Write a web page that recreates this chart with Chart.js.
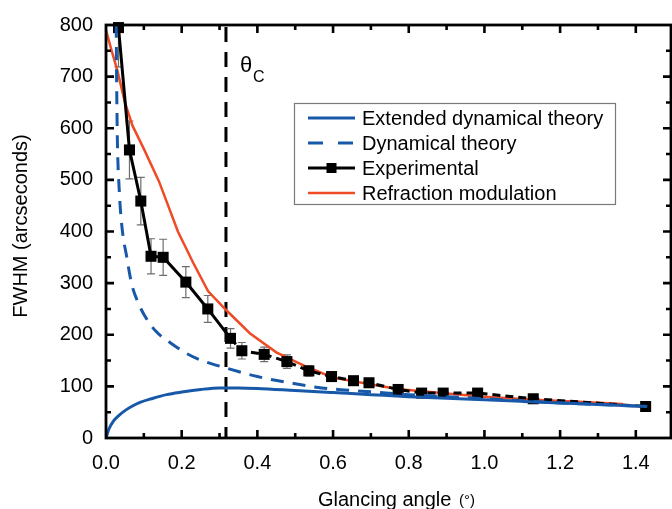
<!DOCTYPE html>
<html>
<head>
<meta charset="utf-8">
<script src="https://cdn.jsdelivr.net/npm/chart.js@4.4.0/dist/chart.umd.min.js"></script>
<style>
  html, body { margin: 0; padding: 0; background: #fff; }
  #wrap { width: 672px; height: 509px; }
</style>
</head>
<body>
<div id="wrap"><canvas id="fwhmChart" width="672" height="509"></canvas></div>
<script>
// glancing angle in degrees, FWHM in arcseconds
const extAngle = [0, 0.008, 0.02, 0.033, 0.05, 0.07, 0.09, 0.12, 0.16, 0.2, 0.25, 0.3, 0.35, 0.4, 0.5, 0.6, 0.7, 0.8, 0.9, 1.0, 1.1, 1.2, 1.3, 1.43];
const extFwhm  = [0, 18, 33, 43, 53, 62, 69, 76, 84, 89, 94, 97, 97, 96, 92, 88, 84, 80, 77, 74, 71, 68, 65, 61];

const dynAngle = [0.027, 0.028, 0.03, 0.035, 0.042, 0.055, 0.068, 0.085, 0.103, 0.13, 0.169, 0.21, 0.25, 0.32, 0.4, 0.5, 0.57, 0.63, 0.71, 0.8, 0.9, 1.0, 1.1, 1.2, 1.3, 1.43];
const dynFwhm  = [800, 700, 580, 480, 410, 350, 298, 262, 236, 208, 185, 165, 151, 135, 119, 105, 97, 93, 89, 84, 80, 76, 72, 68, 65, 61];

const expAngle = [0.033, 0.062, 0.092, 0.119, 0.151, 0.211, 0.269, 0.329, 0.359, 0.418, 0.478, 0.536, 0.596, 0.654, 0.695, 0.772, 0.834, 0.891, 0.982, 1.129, 1.426];
const expFwhm  = [795, 558, 459, 352, 350, 302, 250, 193, 169, 162, 148, 130, 119, 111, 107, 94, 87, 87, 87, 76, 61];
const expErr   = [76, 56, 46, 34, 35, 30, 26, 19, 16, 14, 13, 10, 8, 8, 8, 6, 6, 6, 6, 6, 6];

const refAngle = [0, 0.015, 0.03, 0.05, 0.07, 0.1, 0.14, 0.19, 0.23, 0.27, 0.32, 0.38, 0.45, 0.53, 0.6, 0.69, 0.77, 0.9, 1.0, 1.13, 1.25, 1.365];
const refFwhm  = [790, 750, 712, 650, 605, 560, 497, 400, 340, 284, 246, 203, 166, 138, 117, 105, 95, 86, 80, 74, 70, 66];

const criticalAngle = 0.317;
const xTicks = [0, 0.2, 0.4, 0.6, 0.8, 1.0, 1.2, 1.4];
const yTicks = [0, 100, 200, 300, 400, 500, 600, 700, 800];

const FONT = '"Liberation Sans", Arial, sans-serif';
const BLUE = '#1758a9';
const RED = '#ef4b25';

function toPoints(xs, ys) {
    return xs.map((x, i) => ({ x: x, y: ys[i] }));
}

// dashed line at the critical angle, with its label
const criticalLine = {
    id: 'criticalLine',
    beforeDatasetsDraw(chart) {
        const ctx = chart.ctx;
        const area = chart.chartArea;
        const px = chart.scales.x.getPixelForValue(criticalAngle);
        ctx.save();
        ctx.strokeStyle = '#000';
        ctx.lineWidth = 3;
        ctx.setLineDash([15, 10]);
        ctx.beginPath();
        ctx.moveTo(px, area.top + 2);
        ctx.lineTo(px, area.bottom);
        ctx.stroke();
        ctx.setLineDash([]);
        ctx.fillStyle = '#000';
        ctx.font = '22px ' + FONT;
        ctx.textBaseline = 'alphabetic';
        ctx.fillText('θ', px + 14, 72);
        ctx.font = '16px ' + FONT;
        ctx.fillText('C', px + 27, 82);
        ctx.restore();
    }
};

// gray error bars under the experimental squares
const errorBars = {
    id: 'errorBars',
    beforeDatasetsDraw(chart) {
        const ctx = chart.ctx;
        const a = chart.chartArea;
        const xs = chart.scales.x, ys = chart.scales.y;
        ctx.save();
        ctx.beginPath();
        ctx.rect(a.left, a.top, a.right - a.left, a.bottom - a.top);
        ctx.clip();
        ctx.strokeStyle = '#6e6e6e';
        ctx.lineWidth = 1.2;
        expAngle.forEach((ang, i) => {
            const px = xs.getPixelForValue(ang);
            const hi = ys.getPixelForValue(expFwhm[i] + expErr[i]);
            const lo = ys.getPixelForValue(expFwhm[i] - expErr[i]);
            ctx.beginPath();
            ctx.moveTo(px, hi); ctx.lineTo(px, lo);
            ctx.moveTo(px - 4, hi); ctx.lineTo(px + 4, hi);
            ctx.moveTo(px - 4, lo); ctx.lineTo(px + 4, lo);
            ctx.stroke();
        });
        ctx.restore();
    }
};

// box frame with inward ticks on all four sides
const frame = {
    id: 'frame',
    afterDraw(chart) {
        const ctx = chart.ctx;
        const a = chart.chartArea;
        const xs = chart.scales.x, ys = chart.scales.y;
        ctx.save();
        ctx.strokeStyle = '#000';
        ctx.lineWidth = 2.8;
        ctx.strokeRect(a.left, a.top, a.right - a.left, a.bottom - a.top);
        ctx.lineWidth = 2.6;
        ctx.beginPath();
        for (let i = 1; i <= 14; i++) {
            const px = xs.getPixelForValue(i / 10);
            const len = i % 2 === 0 ? 8 : 5;
            ctx.moveTo(px, a.bottom); ctx.lineTo(px, a.bottom - len);
            ctx.moveTo(px, a.top); ctx.lineTo(px, a.top + len);
        }
        for (let j = 1; j < 16; j++) {
            const py = ys.getPixelForValue(j * 50);
            const len = j % 2 === 0 ? 8 : 5;
            ctx.moveTo(a.left, py); ctx.lineTo(a.left + len, py);
            ctx.moveTo(a.right, py); ctx.lineTo(a.right - len, py);
        }
        ctx.stroke();
        ctx.restore();
    }
};

// legend box and axis titles
const legendBox = {
    id: 'legendBox',
    afterDraw(chart) {
        const ctx = chart.ctx;
        const sets = chart.data.datasets;
        ctx.save();
        ctx.fillStyle = '#fff';
        ctx.fillRect(294, 103, 322, 102);
        ctx.strokeStyle = '#7a7a7a';
        ctx.lineWidth = 1.2;
        ctx.strokeRect(294.5, 103.5, 321, 101);
        sets.forEach((ds, i) => {
            const y = 118 + i * 25;
            ctx.strokeStyle = ds.borderColor;
            ctx.lineWidth = ds.borderWidth;
            ctx.setLineDash(ds.borderDash && ds.borderDash.length ? [15, 15] : []);
            ctx.beginPath();
            ctx.moveTo(308, y); ctx.lineTo(355, y);
            ctx.stroke();
            ctx.setLineDash([]);
            if (ds.pointRadius > 0) {
                ctx.fillStyle = ds.pointBackgroundColor;
                ctx.fillRect(326.5, y - 5, 10, 10);
            }
            ctx.fillStyle = '#000';
            ctx.font = '20px ' + FONT;
            ctx.textBaseline = 'middle';
            ctx.fillText(ds.label, 362, y + 1);
        });

        ctx.fillStyle = '#000';
        ctx.textBaseline = 'alphabetic';
        ctx.font = '20px ' + FONT;
        ctx.fillText('Glancing angle', 318, 506);
        ctx.font = '15px ' + FONT;
        ctx.fillText('(°)', 459, 505);

        ctx.translate(27, 226);
        ctx.rotate(-Math.PI / 2);
        ctx.font = '20px ' + FONT;
        ctx.textAlign = 'center';
        ctx.fillText('FWHM (arcseconds)', 0, 0);
        ctx.restore();
    }
};

const ctx = document.getElementById('fwhmChart').getContext('2d');
const fwhmChart = new Chart(ctx, {
    type: 'line',
    data: {
        datasets: [
            {
                label: 'Extended dynamical theory',
                data: toPoints(extAngle, extFwhm),
                borderColor: BLUE,
                borderWidth: 3,
                pointRadius: 0,
                cubicInterpolationMode: 'monotone'
            },
            {
                label: 'Dynamical theory',
                data: toPoints(dynAngle, dynFwhm),
                borderColor: BLUE,
                borderWidth: 3,
                borderDash: [13, 9],
                pointRadius: 0,
                cubicInterpolationMode: 'monotone'
            },
            {
                label: 'Experimental',
                data: toPoints(expAngle, expFwhm),
                borderColor: '#000',
                borderWidth: 3,
                pointStyle: 'rect',
                pointRadius: 7.8,
                pointBorderWidth: 0,
                pointBackgroundColor: '#000',
                clip: false,
                segment: {
                    borderDash: c => c.p0DataIndex >= 7 ? [8, 5] : undefined
                }
            },
            {
                label: 'Refraction modulation',
                data: toPoints(refAngle, refFwhm),
                borderColor: RED,
                borderWidth: 2.5,
                pointRadius: 0,
                tension: 0
            }
        ]
    },
    options: {
        responsive: false,
        animation: false,
        events: [],
        layout: { autoPadding: false, padding: { top: 23, right: 1, left: 0, bottom: 0 } },
        plugins: {
            legend: { display: false },
            tooltip: { enabled: false }
        },
        scales: {
            x: {
                type: 'linear',
                min: 0,
                max: 1.493,
                grid: { display: false, drawTicks: false },
                border: { display: false },
                afterBuildTicks: s => { s.ticks = xTicks.map(v => ({ value: v })); },
                afterFit: s => {
                    s.height = 71;
                    s.paddingLeft = 0;
                    s.paddingRight = 0;
                },
                ticks: {
                    padding: 13,
                    color: '#000',
                    autoSkip: false,
                    maxRotation: 0,
                    font: { family: FONT, size: 20 },
                    callback: v => v.toFixed(1)
                }
            },
            y: {
                min: 0,
                max: 800,
                grid: { display: false, drawTicks: false },
                border: { display: false },
                afterBuildTicks: s => { s.ticks = yTicks.map(v => ({ value: v })); },
                afterFit: s => { s.width = 106; },
                ticks: {
                    padding: 13,
                    color: '#000',
                    font: { family: FONT, size: 20 }
                }
            }
        }
    },
    plugins: [criticalLine, errorBars, frame, legendBox]
});
</script>
</body>
</html>
